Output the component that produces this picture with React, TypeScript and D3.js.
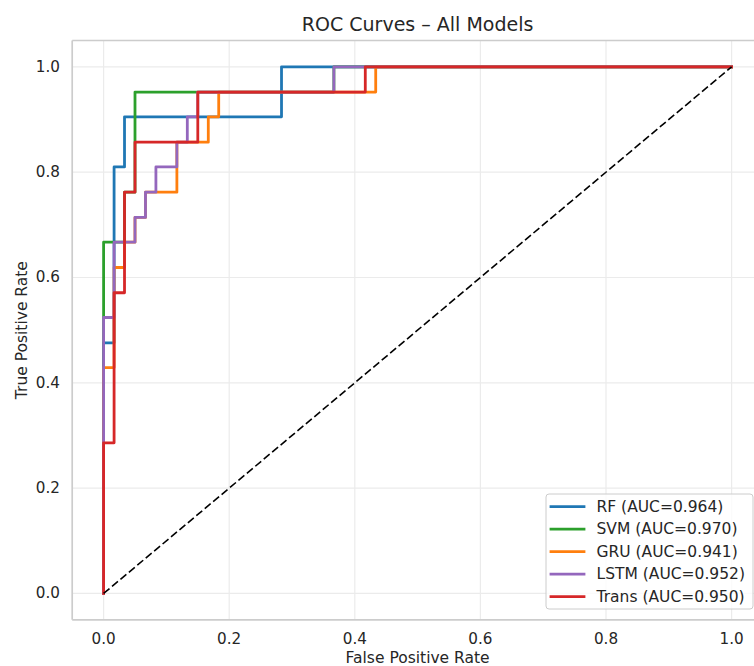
import React from "react";
import * as d3 from "d3";

const models = ["RF", "SVM", "GRU", "LSTM", "Trans"];
const aucs = ["0.964", "0.970", "0.941", "0.952", "0.950"];
const colors = ["#1f77b4", "#2ca02c", "#ff7f0e", "#9467bd", "#d62728"];

const rfFpr = [0, 0, 0.0167, 0.0167, 0.0333, 0.0333, 0.2833, 0.2833, 1];
const rfTpr = [0, 0.476, 0.476, 0.81, 0.81, 0.905, 0.905, 1, 1];

const svmFpr = [0, 0, 0.0333, 0.0333, 0.05, 0.05, 0.3667, 0.3667, 1];
const svmTpr = [0, 0.667, 0.667, 0.762, 0.762, 0.952, 0.952, 1, 1];

const gruFpr = [0, 0, 0.0167, 0.0167, 0.0333, 0.0333, 0.05, 0.05, 0.0667, 0.0667, 0.1167, 0.1167, 0.1667, 0.1667, 0.1833, 0.1833, 0.4333, 0.4333, 1];
const gruTpr = [0, 0.429, 0.429, 0.619, 0.619, 0.667, 0.667, 0.714, 0.714, 0.762, 0.762, 0.857, 0.857, 0.905, 0.905, 0.952, 0.952, 1, 1];

const lstmFpr = [0, 0, 0.0167, 0.0167, 0.05, 0.05, 0.0667, 0.0667, 0.0833, 0.0833, 0.1167, 0.1167, 0.1333, 0.1333, 0.15, 0.15, 0.3667, 0.3667, 1];
const lstmTpr = [0, 0.524, 0.524, 0.667, 0.667, 0.714, 0.714, 0.762, 0.762, 0.81, 0.81, 0.857, 0.857, 0.905, 0.905, 0.952, 0.952, 1, 1];

const transFpr = [0, 0, 0.0167, 0.0167, 0.0333, 0.0333, 0.05, 0.05, 0.15, 0.15, 0.4167, 0.4167, 1];
const transTpr = [0, 0.286, 0.286, 0.571, 0.571, 0.762, 0.762, 0.857, 0.857, 0.952, 0.952, 1, 1];

const fprs = [rfFpr, svmFpr, gruFpr, lstmFpr, transFpr];
const tprs = [rfTpr, svmTpr, gruTpr, lstmTpr, transTpr];

const tickValues = [0, 0.2, 0.4, 0.6, 0.8, 1.0];
const tickLabels = ["0.0", "0.2", "0.4", "0.6", "0.8", "1.0"];

const W = 754;
const H = 666;
const FONT = "'DejaVu Sans', sans-serif";
const TXT = "#262626";

export default function App() {
  const left = 72.2;
  const right = 763;
  const top = 40.5;
  const bottom = 619.8;
  const x = d3.scaleLinear().domain([-0.05, 1.05]).range([left, right]);
  const y = d3.scaleLinear().domain([-0.05, 1.05]).range([bottom, top]);

  const line = d3
    .line<[number, number]>()
    .x((d) => x(d[0]))
    .y((d) => y(d[1]));

  const curves = models.map((m, i) =>
    line(fprs[i].map((f, j) => [f, tprs[i][j]] as [number, number]))
  );
  const diag = line([
    [0, 0],
    [1, 1],
  ]);

  const legX = 546;
  const legY = 494;
  const legW = 207;
  const legH = 115;

  return (
    <svg
      width={W}
      height={H}
      style={{ position: "absolute", left: 0, top: 0, background: "#fff" }}
      fontFamily={FONT}
    >
      <rect x={0} y={0} width={W} height={H} fill="#fff" />
      <defs>
        <clipPath id="plot">
          <rect x={left} y={top} width={right - left} height={bottom - top} />
        </clipPath>
      </defs>
      {/* grid */}
      <g stroke="#ebebeb" strokeWidth={1.2}>
        {tickValues.map((t) => (
          <line key={"gx" + t} x1={x(t)} x2={x(t)} y1={top} y2={bottom} />
        ))}
        {tickValues.map((t) => (
          <line key={"gy" + t} x1={left} x2={right} y1={y(t)} y2={y(t)} />
        ))}
      </g>
      {/* spines */}
      <g stroke="#cccccc" strokeWidth={1.7} fill="none">
        <line x1={left} x2={left} y1={top} y2={bottom} />
        <line x1={left} x2={right} y1={bottom} y2={bottom} />
        <line x1={left} x2={right} y1={top} y2={top} />
        <line x1={right} x2={right} y1={top} y2={bottom} />
      </g>
      {/* curves */}
      <g clipPath="url(#plot)" fill="none">
        {curves.map((c, i) => (
          <path
            key={models[i]}
            d={c || ""}
            stroke={colors[i]}
            strokeWidth={2.8}
            strokeLinejoin="round"
            strokeLinecap="square"
          />
        ))}
        <path
          d={diag || ""}
          stroke="#000"
          strokeWidth={1.6}
          strokeDasharray="7.7,3.3"
        />
      </g>
      {/* ticks labels */}
      <g fill={TXT} fontSize={15.2}>
        {tickValues.map((t, i) => (
          <text key={"xt" + t} x={x(t)} y={644} textAnchor="middle">
            {tickLabels[i]}
          </text>
        ))}
        {tickValues.map((t, i) => (
          <text
            key={"yt" + t}
            x={60}
            y={y(t)}
            textAnchor="end"
            dominantBaseline="central"
          >
            {tickLabels[i]}
          </text>
        ))}
      </g>
      {/* axis labels */}
      <text
        x={(left + right) / 2}
        y={663}
        textAnchor="middle"
        fontSize={15.5}
        fill={TXT}
      >
        False Positive Rate
      </text>
      <text
        transform={`translate(26.5, ${(top + bottom) / 2}) rotate(-90)`}
        textAnchor="middle"
        fontSize={15.5}
        fill={TXT}
      >
        True Positive Rate
      </text>
      {/* title */}
      <text
        x={(left + right) / 2}
        y={30.5}
        textAnchor="middle"
        fontSize={19}
        fill={TXT}
      >
        ROC Curves – All Models
      </text>
      {/* legend */}
      <g>
        <rect
          x={legX}
          y={legY}
          width={legW}
          height={legH}
          rx={3}
          fill="#fff"
          fillOpacity={0.8}
          stroke="#cccccc"
          strokeWidth={1}
        />
        {models.map((m, i) => {
          const ry = legY + 12.7 + i * 22.5;
          return (
            <g key={"leg" + m}>
              <line
                x1={legX + 5}
                x2={legX + 38}
                y1={ry}
                y2={ry}
                stroke={colors[i]}
                strokeWidth={2.8}
                strokeLinecap="square"
              />
              <text
                x={legX + 50.5}
                y={ry}
                dominantBaseline="central"
                fontSize={15.5}
                fill={TXT}
              >
                {`${m} (AUC=${aucs[i]})`}
              </text>
            </g>
          );
        })}
      </g>
    </svg>
  );
}
